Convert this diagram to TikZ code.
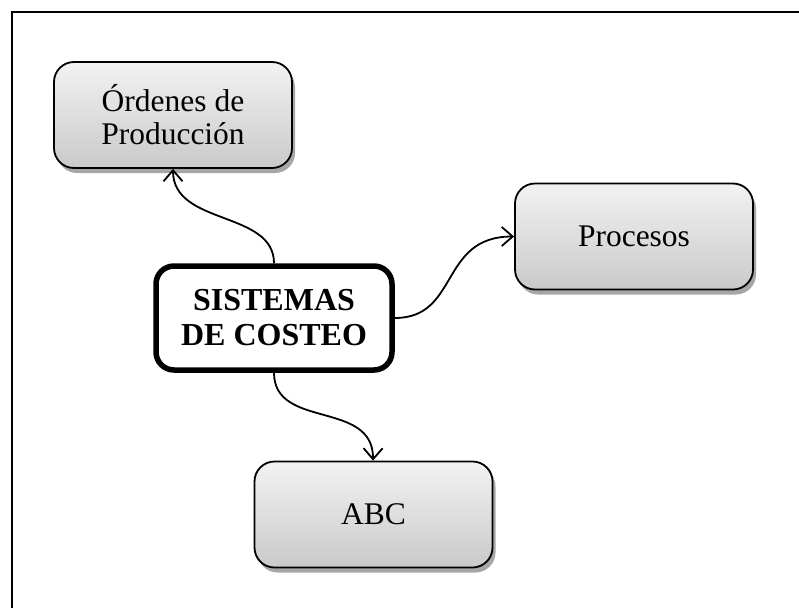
\documentclass[tikz,border=0pt]{standalone}
\usepackage{fontspec}
\setmainfont{Liberation Serif}
\usetikzlibrary{arrows.meta,shadows,shadings}
\tikzset{
  graybox/.style={draw=black, line width=1.8pt, rounded corners=20pt,
    top color=gray!10, bottom color=gray!42,
    drop shadow={shadow xshift=3pt, shadow yshift=-5pt, opacity=0.35, fill=black},
    minimum width=238pt, minimum height=106pt, align=center,
    font=\fontsize{31.5}{33}\selectfont, inner sep=0pt},
  mainbox/.style={draw=black, line width=5.5pt, rounded corners=18pt, fill=white,
    minimum width=236pt, minimum height=104pt, align=center,
    font=\fontsize{32}{35}\selectfont\bfseries, inner sep=0pt},
  conn/.style={line width=1.8pt, -{Straight Barb[length=11pt,width=19pt,line width=1.8pt]}},
  frameline/.style={line width=2pt}
}
\begin{document}
\begin{tikzpicture}[x=1pt,y=-1pt]
\useasboundingbox (0,0) rectangle (799,608);
\coordinate (fa) at (11.5,608);
\coordinate (fb) at (11.5,11.5);
\coordinate (fc) at (799,11.5);
\draw[frameline] (fa) -- (fb) -- (fc);
\node[graybox] (ord) at (173,115) {Órdenes de\\Producción};
\node[graybox] (proc) at (634,236.5) {Procesos};
\node[graybox] (abc) at (373.5,514.5) {ABC};
\node[mainbox] (sis) at (274,318) {SISTEMAS\\DE COSTEO};
\draw[conn] (sis.north) .. controls ([yshift=53pt]sis.north) and ([yshift=-57pt]ord.south) .. (ord.south);
\draw[conn] (sis.east) .. controls ([xshift=65pt]sis.east) and ([xshift=-75pt]proc.west) .. (proc.west);
\draw[conn] (sis.south) .. controls ([yshift=-57pt]sis.south) and ([yshift=61pt]abc.north) .. ([xshift=-0.5pt]abc.north);
\end{tikzpicture}
\end{document}
